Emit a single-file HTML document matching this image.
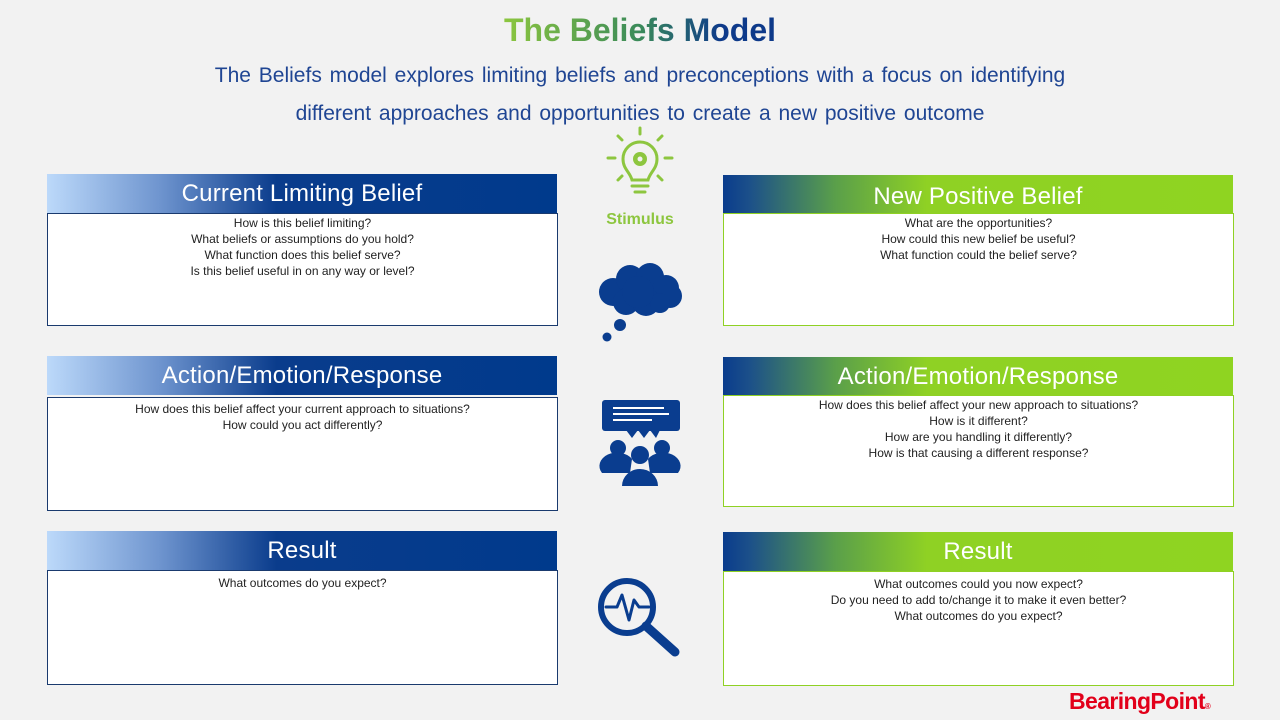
<!DOCTYPE html>
<html><head><meta charset="utf-8"><style>
*{margin:0;padding:0;box-sizing:border-box}
body{width:1280px;height:720px;background:#f2f2f2;position:relative;overflow:hidden;font-family:"Liberation Sans",sans-serif}
.t{position:absolute;left:0;width:1280px;text-align:center;white-space:nowrap}
.h{position:absolute;height:39px;color:#fff;font-size:24px;text-align:center;line-height:40px;letter-spacing:0.2px}
.hl{background:linear-gradient(90deg,#bcd9fa 0%,#6f95cf 22%,#0a3c8c 45%,#003a8c 100%)}
.hr{background:linear-gradient(90deg,#0a3c8c 0%,#1b4f8a 5%,#5a9f4a 22%,#8fd124 40%,#8fd421 100%)}
.b{position:absolute;background:#fff;font-size:12px;line-height:16px;color:#222;text-align:center;padding-top:1px}
.bl{border:1px solid #1a3a6e}
.br{border:1px solid #8fd124}
</style></head><body>
<div class="t" style="top:12px;font-size:32px;font-weight:bold;"><span style="background:linear-gradient(90deg,#8cc63f,#3a8a5a 50%,#0e3a8a 80%);-webkit-background-clip:text;background-clip:text;color:transparent">The Beliefs Model</span></div>
<div class="t" style="top:64px;font-size:21px;color:#1f4593;word-spacing:2px;">The Beliefs model explores limiting beliefs and preconceptions with a focus on identifying</div>
<div class="t" style="top:102px;font-size:21px;color:#1f4593;word-spacing:2px;">different approaches and opportunities to create a new positive outcome</div>

<div class="h hl" style="left:47px;top:174px;width:510px">Current Limiting Belief</div>
<div class="b bl" style="left:47px;top:213px;width:511px;height:113px">How is this belief limiting?<br>What beliefs or assumptions do you hold?<br>What function does this belief serve?<br>Is this belief useful in on any way or level?</div>
<div class="h hl" style="left:47px;top:356px;width:510px">Action/Emotion/Response</div>
<div class="b bl" style="left:47px;top:397px;width:511px;height:114px;padding-top:3px">How does this belief affect your current approach to situations?<br>How could you act differently?</div>
<div class="h hl" style="left:47px;top:531px;width:510px">Result</div>
<div class="b bl" style="left:47px;top:570px;width:511px;height:115px;padding-top:4px">What outcomes do you expect?</div>

<div class="h hr" style="left:723px;top:175px;width:510px;line-height:44px">New Positive Belief</div>
<div class="b br" style="left:723px;top:213px;width:511px;height:113px">What are the opportunities?<br>How could this new belief be useful?<br>What function could the belief serve?</div>
<div class="h hr" style="left:723px;top:357px;width:510px">Action/Emotion/Response</div>
<div class="b br" style="left:723px;top:395px;width:511px;height:112px">How does this belief affect your new approach to situations?<br>How is it different?<br>How are you handling it differently?<br>How is that causing a different response?</div>
<div class="h hr" style="left:723px;top:532px;width:510px">Result</div>
<div class="b br" style="left:723px;top:571px;width:511px;height:115px;padding-top:4px">What outcomes could you now expect?<br>Do you need to add to/change it to make it even better?<br>What outcomes do you expect?</div>

<svg style="position:absolute;left:580px;top:120px" width="120" height="560" viewBox="0 0 120 560">
 <g stroke="#8dc63f" stroke-width="3" fill="none" stroke-linecap="round">
  <line x1="60" y1="8" x2="60" y2="14"/><line x1="28" y1="38" x2="35" y2="38"/><line x1="85" y1="38" x2="92" y2="38"/>
  <line x1="38" y1="16" x2="42" y2="20"/><line x1="82" y1="16" x2="78" y2="20"/>
  <line x1="38" y1="60" x2="42" y2="56"/><line x1="82" y1="60" x2="78" y2="56"/>
  <path d="M52 60 C50 52 43 49 43 39 A17 17 0 0 1 77 39 C77 49 70 52 68 60 Z"/>
  <line x1="52" y1="66" x2="68" y2="66"/><line x1="55" y1="72" x2="65" y2="72"/>
 </g>
 <circle cx="60" cy="39" r="7" fill="#8dc63f"/><circle cx="60" cy="39" r="2.5" fill="#f2f2f2"/>
 <text x="60" y="104" text-anchor="middle" font-family="Liberation Sans" font-weight="bold" font-size="16" fill="#8dc63f">Stimulus</text>
 <g fill="#0a3d8f">
  <circle cx="33" cy="172" r="14"/><circle cx="50" cy="159" r="14"/><circle cx="70" cy="157" r="14"/><circle cx="86" cy="168" r="13"/><circle cx="90" cy="176" r="12"/>
  <circle cx="46" cy="182" r="13"/><circle cx="66" cy="182" r="14"/><circle cx="80" cy="183" r="10"/><circle cx="58" cy="172" r="16"/>
  <circle cx="40" cy="205" r="6"/><circle cx="27" cy="217" r="4.5"/>
  <rect x="22" y="280" width="78" height="31" rx="3"/>
  <polygon points="46,310 52,318 58,310 64,318 70,310 76,318 80,310"/>
  <circle cx="38" cy="328" r="8"/><circle cx="82" cy="328" r="8"/><circle cx="60" cy="335" r="9"/>
  <path d="M22 353 A17 13 0 0 1 52 339 L50 353 Z"/><path d="M98 353 A17 13 0 0 0 68 339 L70 353 Z"/>
  <path d="M42 366 A18 17 0 0 1 78 366 Z"/>
 </g>
 <g stroke="#fff" stroke-width="2"><line x1="33" y1="288" x2="84" y2="288"/><line x1="33" y1="294" x2="89" y2="294"/><line x1="33" y1="300" x2="72" y2="300"/></g>
 <g stroke="#0a3d8f" fill="none" stroke-linecap="round">
  <circle cx="47" cy="487" r="26" stroke-width="6"/>
  <line x1="66" y1="506" x2="95" y2="532" stroke-width="9"/>
  <polyline points="26,487 37,487 42,475 49,500 54,480 59,487 69,487" stroke-width="3" stroke-linejoin="round"/>
 </g>
</svg>

<div style="position:absolute;left:1069px;top:688px;font-size:23px;font-weight:bold;color:#e2001a;letter-spacing:-0.6px">BearingPoint<span style="font-size:8px">®</span></div>
</body></html>
